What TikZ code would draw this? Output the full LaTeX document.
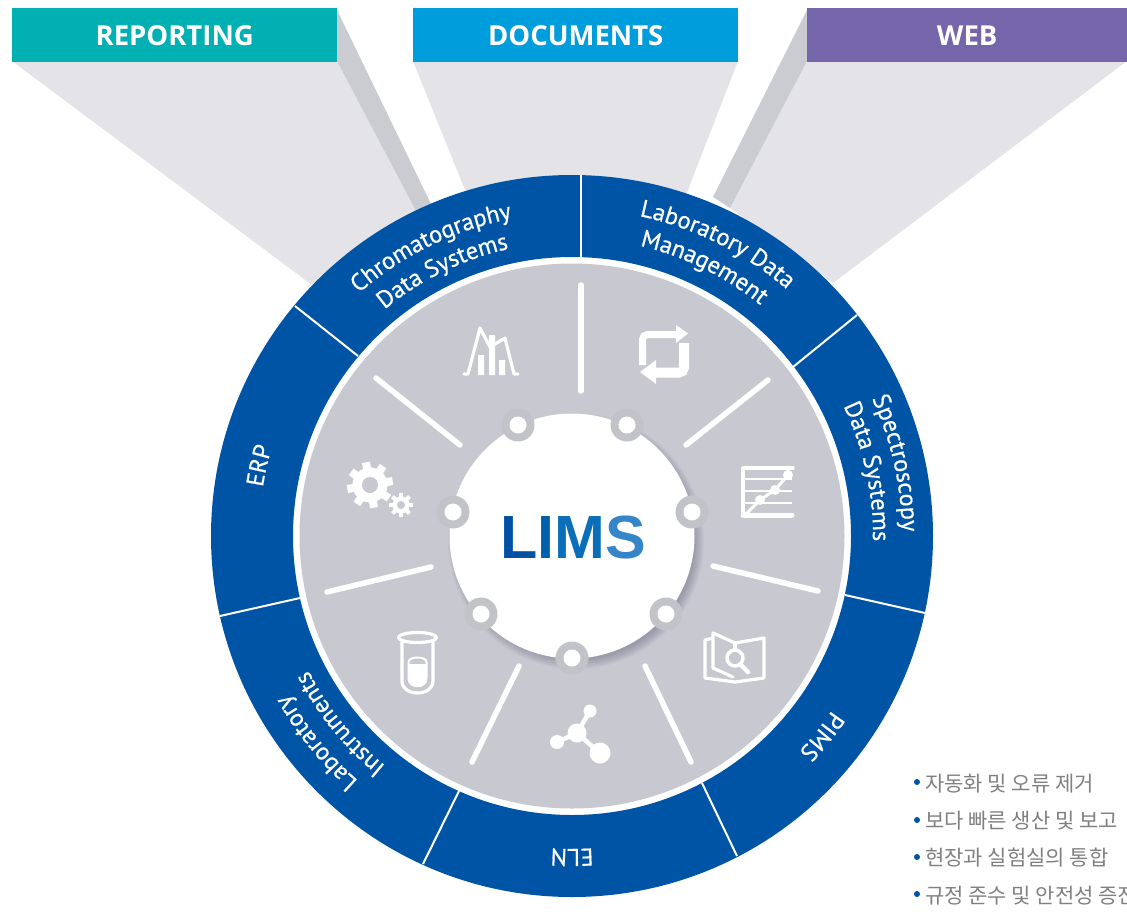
\documentclass[tikz,border=0pt]{standalone}
\usepackage{fontspec}
\usetikzlibrary{decorations.text}
\newfontfamily\ringfam[FakeBold=0.6]{PT Sans}
\newfontfamily\banfam{Open Sans}
\newfontfamily\limsfam{Liberation Sans}
\newfontfamily\krfam{Noto Sans CJK KR}
\definecolor{ringblue}{HTML}{0054A6}
\definecolor{discgrey}{HTML}{C8C9D0}
\definecolor{shlight}{HTML}{E3E3E8}
\definecolor{shdark}{HTML}{CBCCD1}
\definecolor{dotgrey}{HTML}{C2C3C8}
\definecolor{banteal}{HTML}{00B0B3}
\definecolor{banblue}{HTML}{009DDC}
\definecolor{banpurple}{HTML}{7566AB}
\definecolor{hubshade}{HTML}{50506A}
\newcommand{\ringfont}{\ringfam\fontsize{24.3}{27}\selectfont\color{white}}
\newcommand{\ringlabel}[4]{\path[decorate,decoration={text along path,text align=center,text={|\ringfont|#4}}] (#2+#3:#1) arc[start angle=#2+#3,end angle=#2-#3,radius=#1];}
\tikzset{
  banner/.style={fill=#1,minimum height=53pt,inner sep=0pt,text=white,font=\banfam\bfseries\fontsize{27.5}{30}\selectfont,anchor=north west},
  spoke/.style={draw=white,line width=5.5pt,line cap=round},
  divider/.style={draw=white,line width=2pt},
  icon/.style={draw=white,line width=3.2pt,line cap=round,line join=round},
  krtext/.style={anchor=base west,inner sep=0pt,text=black!50,font=\krfam\fontsize{21}{24}\selectfont},
  bulletdot/.style={fill=ringblue,circle,minimum size=6pt,inner sep=0pt},
}
\begin{document}
\begin{tikzpicture}[x=1pt,y=1pt]
\useasboundingbox (0,-911) rectangle (1127,0);
% beams
\fill[shlight] (12,-61) -- (337,-61) -- (417,-213) -- (312,-285) -- cycle;
\fill[shdark] (337,-10) -- (432,-206) -- (417,-213) -- (337,-61) -- cycle;
\fill[shlight] (413,-61) -- (738,-61) -- (686,-195) -- (465,-190) -- cycle;
\fill[shlight] (807,-61) -- (1127,-61) -- (833,-283) -- (730,-208) -- cycle;
\fill[shdark] (807,-10) -- (713,-197) -- (730,-208) -- (807,-61) -- cycle;
% banners
\node[banner=banteal,minimum width=325pt] (reporting) at (12,-9) {REPORTING};
\fill[banteal] (12,-8) rectangle (337,-10);
\node[banner=banblue,minimum width=325pt] (documents) at (413,-9) {DOCUMENTS};
\fill[banblue] (413,-8) rectangle (738,-10);
\node[banner=banpurple,minimum width=320pt] (web) at (807,-9) {WEB};
\fill[banpurple] (807,-8) rectangle (1127,-10);
\begin{scope}[shift={(572,-536)}]
  % ring
  \fill[ringblue,even odd rule] (0,0) circle (361) (0,0) circle (279);
  \fill[discgrey] (0,0) circle (272.5);
  \foreach \x/\y/\u/\v in {581/175/581/258,857/315/793/367,925/613/845/595,737/856/702/783,459/791/423/864,220/616/300/598,295/306/358/356}
    \draw[divider] (\x-572,536-\y) -- (\u-572,536-\v);
  % spokes
  \foreach \x/\y/\u/\v in {581/285/581/391,768/380/686/445,818/591/713/566,691/762/645/666,472/762/519/666,327/592/431/567,376/378/460/445}
    \draw[spoke] (\x-572,536-\y) -- (\u-572,536-\v);
  % labels
  \ringlabel{323}{116}{50}{Chromatography}
  \ringlabel{294}{116}{50}{Data Systems}
  \ringlabel{327}{63.5}{50}{Laboratory Data}
  \ringlabel{298}{63.8}{50}{Management}
  \ringlabel{330}{12.7}{50}{Spectroscopy}
  \ringlabel{301}{12.3}{50}{Data Systems}
  \ringlabel{313}{167.3}{40}{ERP}
  \ringlabel{313}{-38.7}{40}{PIMS}
  \ringlabel{313}{-90}{40}{ELN}
  \ringlabel{325}{219}{50}{Laboratory}
  \ringlabel{296}{219}{50}{Instruments}
  % hub shadow
  \foreach \r in {128,126.5,...,118}
    \fill[hubshade,opacity=.06] (4,-5) circle (\r);
  \fill[white] (0,0) circle (122.5);
\end{scope}
% hub studs
\foreach \x/\y in {518/425,627/425,692/512,666/614,572/658,481/614,453/512}{
  \fill[dotgrey] (\x,-\y) circle (16.5);
  \fill[white] (\x,-\y) circle (8.5);
}
% LIMS
\node[anchor=base,inner sep=0pt,font=\limsfam\bfseries\fontsize{61}{66}\selectfont] (lims) at (573,-558)
  {\textcolor[HTML]{0050A4}{L}\textcolor[HTML]{005FAD}{I}\textcolor[HTML]{0A6EB8}{M}\textcolor[HTML]{3585C8}{S}};
% chromatography icon
\draw[icon] (464,-374) -- (468,-374) -- (480,-328) -- (490,-347) -- (505,-338) -- (514,-374) -- (518,-374);
\fill[white] (478,-355) rectangle (484,-375) (489,-335) rectangle (495,-375) (499,-360) rectangle (505,-375);
% refresh icon
\draw[white,line width=7pt,rounded corners=5pt] (642.5,-365) -- (642.5,-334.5) -- (677,-334.5);
\fill[white] (676,-325) -- (688,-333.5) -- (676,-343) -- cycle;
\draw[white,line width=10pt,rounded corners=5pt] (684,-343) -- (684,-372.5) -- (655,-372.5);
\fill[white] (656,-360) -- (640,-372) -- (656,-384) -- cycle;
% chart icon
\draw[icon] (743,-468) -- (793,-468) (743,-468) -- (743,-515);
\draw[white,line width=2pt] (745,-479) -- (792,-479) (745,-491) -- (792,-491) (745,-503) -- (792,-503);
\draw[white,line width=5pt,line cap=round] (743,-515) -- (792,-515);
\draw[white,line width=3pt] (745,-515) -- (760,-500) -- (775,-490) -- (788,-475);
\fill[white] (760,-500) circle (5) (775,-490) circle (5) (788,-475) circle (5);
% book icon
\draw[icon] (713,-633) -- (735,-643) -- (764,-638) -- (764,-678) -- (735,-682) -- (705,-678) -- (705,-640) -- (713,-638);
\draw[icon] (713,-633) -- (713,-668) -- (733,-677);
\draw[icon] (735,-643) -- (735,-650);
\draw[icon,line width=3.5pt] (735,-658) circle (8);
\draw[white,line width=4.5pt,line cap=round] (741,-665) -- (748,-672);
% molecule icon
\draw[white,line width=4.5pt] (577,-733) -- (590,-711) (577,-733) -- (600,-753) (577,-733) -- (557,-742);
\fill[white] (577,-733) circle (9.5) (600,-753) circle (10.5) (590,-711) circle (6.5) (557,-742) circle (7);
% test tube icon
\draw[icon] (402,-642) -- (402,-681) .. controls (402,-697) and (433,-697) .. (433,-681) -- (433,-642);
\draw[icon] (417.5,-637.5) ellipse (19 and 5);
\draw[icon,line width=2pt] (408.5,-662) -- (408.5,-678) .. controls (408.5,-689) and (426.5,-689) .. (426.5,-678) -- (426.5,-662) .. controls (426.5,-656) and (408.5,-656) .. (408.5,-662);
\fill[white] (408.5,-664) -- (408.5,-678) .. controls (408.5,-689) and (426.5,-689) .. (426.5,-678) -- (426.5,-664) -- cycle;
% gears
\fill[white] (370,-485) circle (17.5);
\foreach \a in {0,45,...,315} \draw[white,line width=8pt] (370,-485) ++(\a+10:14) -- ++(\a+10:9);
\fill[discgrey] (370,-485) circle (8);
\fill[white] (401,-505) circle (8.5);
\foreach \a in {0,45,...,315} \draw[white,line width=4pt] (401,-505) ++(\a:7) -- ++(\a:5);
\fill[discgrey] (401,-505) circle (4);
% Korean list
\node[bulletdot] (b1) at (917,-782) {};
\node[bulletdot] (b2) at (917,-820) {};
\node[bulletdot] (b3) at (917,-857) {};
\node[bulletdot] (b4) at (917,-894) {};
\node[krtext] (t1) at (925,-791) {자동화 및 오류 제거};
\node[krtext] (t2) at (925,-828) {보다 빠른 생산 및 보고};
\node[krtext] (t3) at (925,-865) {현장과 실험실의 통합};
\begin{scope}
\clip (900,-911) rectangle (1127,-870);
\node[krtext] (t4) at (925,-903) {규정 준수 및 안전성 증진};
\end{scope}
\end{tikzpicture}
\end{document}
